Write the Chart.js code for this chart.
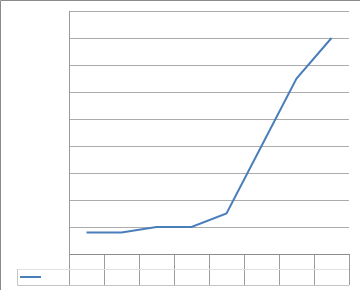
<!DOCTYPE html>
<html>
<head>
<meta charset="utf-8">
<script src="https://cdn.jsdelivr.net/npm/chart.js@4/dist/chart.umd.min.js"></script>
<style>
  body { margin: 0; background: #fff; }
  canvas { display: block; }
</style>
</head>
<body>
<canvas id="grafico" width="360" height="290"></canvas>
<script>
// dados (sem rótulos visíveis)
const categorias = ["1", "2", "3", "4", "5", "6", "7", "8"];
const valores = [0.8, 0.8, 1.0, 1.0, 1.5, 4.0, 6.5, 8.0];
const eixoMin = 0;
const eixoMax = 9;
const passo = 1;

// moldura, tabela de dados e chave da legenda
const tabela = {
    id: "tabela",
    afterDraw(chart) {
        const ctx = chart.ctx;
        const x = chart.scales.x;
        const area = chart.chartArea;
        const linha1 = area.bottom + 15;
        const linha2 = area.bottom + 31;
        const esq = 17;

        ctx.save();
        ctx.lineWidth = 1;

        // moldura externa
        ctx.strokeStyle = "#8a8a8a";
        ctx.beginPath();
        ctx.moveTo(0.5, 290);
        ctx.lineTo(0.5, 0.5);
        ctx.lineTo(360, 0.5);
        ctx.stroke();

        // linhas da tabela
        ctx.strokeStyle = "#e2e2e2";
        ctx.beginPath();
        ctx.moveTo(esq, linha1 + 0.5);
        ctx.lineTo(x.right, linha1 + 0.5);
        ctx.stroke();

        ctx.strokeStyle = "#c4c4c4";
        ctx.beginPath();
        ctx.moveTo(esq + 0.5, linha1);
        ctx.lineTo(esq + 0.5, linha2 + 0.5);
        ctx.lineTo(x.right, linha2 + 0.5);
        ctx.stroke();

        // chave da legenda
        ctx.strokeStyle = chart.data.datasets[0].borderColor;
        ctx.lineWidth = 2;
        ctx.beginPath();
        ctx.moveTo(20, linha1 + 8);
        ctx.lineTo(41, linha1 + 8);
        ctx.stroke();
        ctx.restore();
    }
};

new Chart(document.getElementById("grafico"), {
    type: "line",
    data: {
        labels: categorias,
        datasets: [{
            label: "Série 1",
            data: valores,
            borderColor: "#4A7EBB",
            borderWidth: 2,
            pointRadius: 0,
            tension: 0,
            fill: false
        }]
    },
    options: {
        responsive: false,
        animation: false,
        layout: { padding: { left: 69, top: 11, right: 11, bottom: 36 } },
        plugins: { legend: { display: false }, tooltip: { enabled: false } },
        scales: {
            x: {
                offset: true,
                afterFit: s => { s.height = 0; },
                ticks: { display: false },
                grid: {
                    offset: true,
                    drawOnChartArea: false,
                    drawTicks: true,
                    tickLength: 31,
                    color: "#9c9c9c"
                },
                border: { color: "#8c8c8c" }
            },
            y: {
                min: eixoMin,
                max: eixoMax,
                afterFit: s => { s.width = 0; },
                ticks: { display: false, stepSize: passo },
                grid: { color: "#ababab", drawTicks: false },
                border: { color: "#9a9a9a" }
            }
        }
    },
    plugins: [tabela]
});
</script>
</body>
</html>
